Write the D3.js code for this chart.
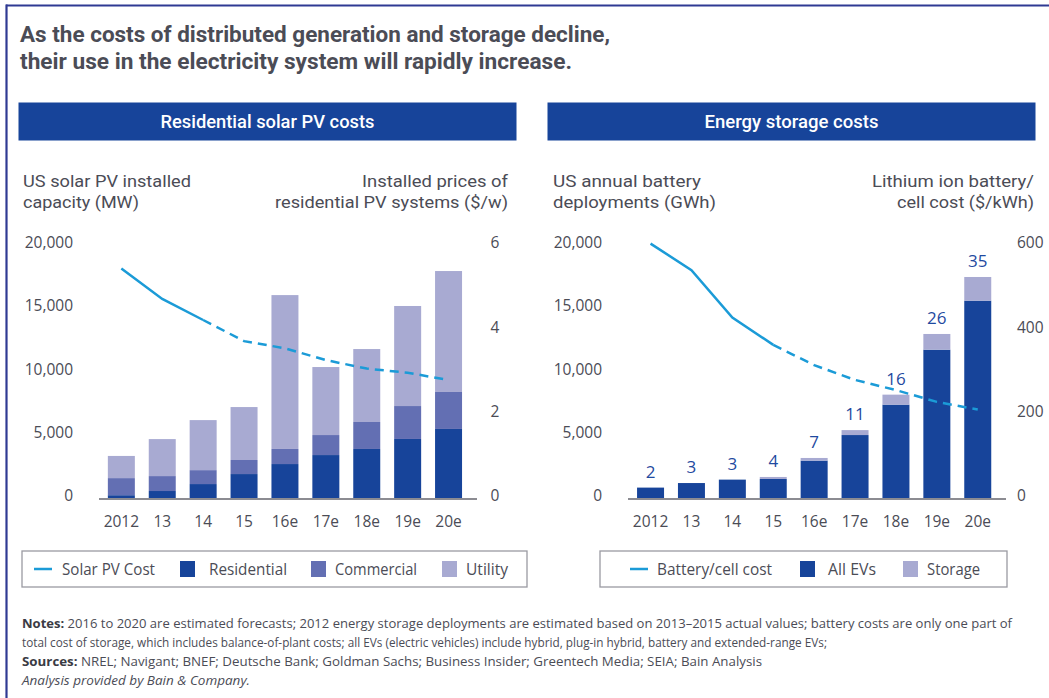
<!DOCTYPE html>
<html><head><meta charset="utf-8">
<script src="https://cdn.jsdelivr.net/npm/d3@7"></script>
<style>
html,body{margin:0;padding:0;background:#fff;}
svg{display:block;font-family:"Open Sans","Noto Sans",sans-serif;}
</style></head>
<body>
<svg id="c" width="1049" height="698"></svg>
<script>
// ---- data ----
const years = ["2012","13","14","15","16e","17e","18e","19e","20e"];
// Residential solar PV (MW installed)
const residential = [300, 630, 1180, 1970, 2760, 3470, 3950, 4740, 5530];
const commercial  = [1350, 1180, 1100, 1110, 1190, 1580, 2130, 2600, 2920];
const utility     = [1750, 2920, 3950, 4180, 12150, 5370, 5760, 7900, 9550];
const pvCost      = [5.46, 4.74, 4.24, 3.74, 3.57, 3.29, 3.09, 2.99, 2.82];
const pvSolidUntil = 2;   // index where dashed (forecast) line starts
// Energy storage
const allEVs      = [900, 1260, 1530, 1580, 3030, 5050, 7450, 11790, 15660];
const storage     = [0, 0, 0, 160, 210, 390, 790, 1240, 1870];
const totalGWh    = [2, 3, 3, 4, 7, 11, 16, 26, 35];
const batteryCost = [605, 542, 430, 365, 317, 282, 258, 230, 212];
const batSolidUntil = 3;
const leftTicks = [0, 5000, 10000, 15000, 20000];
const pvTicks = [0, 2, 4, 6];
const batTicks = [0, 200, 400, 600];

const C = {res:"#17449a", com:"#636fb3", uti:"#a8aad2", line:"#1b9bd7", text:"#4b4c56", axis:"#8c8c92"};

const svg = d3.select("#c");

// frame
svg.append("line").attr("x1",6).attr("x2",1049).attr("y1",5.5).attr("y2",5.5).attr("stroke","#2f3a93").attr("stroke-width",2.2);
svg.append("line").attr("x1",6.5).attr("x2",6.5).attr("y1",4.5).attr("y2",698).attr("stroke","#2f3a93").attr("stroke-width",2.2);

// title
const title = ["As the costs of distributed generation and storage decline,",
               "their use in the electricity system will rapidly increase."];
const titleW = [590, 552];
title.forEach((t,i)=>{
  svg.append("text").attr("x",20).attr("y",42+i*27).text(t)
    .attr("font-family","Roboto").attr("font-size",22.5).attr("font-weight",700).attr("fill",C.text)
    .attr("textLength",titleW[i]).attr("lengthAdjust","spacingAndGlyphs");
});

function panel(cfg){
  const g = svg.append("g");
  // header bar
  g.append("rect").attr("x",cfg.hx).attr("y",102.5).attr("width",cfg.hw).attr("height",38).attr("fill",C.res);
  g.append("text").attr("x",cfg.hx+cfg.hw/2).attr("y",128).attr("text-anchor","middle")
    .attr("fill","#fff").attr("font-size",18).attr("font-family","Roboto").attr("font-weight",500)
    .attr("textLength",cfg.htw).attr("lengthAdjust","spacingAndGlyphs").text(cfg.header);
  // axis titles
  cfg.lt.forEach((t,i)=>g.append("text").attr("x",cfg.ltx).attr("y",187+i*20.5).attr("font-family","Roboto").attr("font-size",17).attr("fill",C.text)
    .attr("textLength",cfg.ltw[i]).attr("lengthAdjust","spacingAndGlyphs").text(t));
  cfg.rt.forEach((t,i)=>g.append("text").attr("x",cfg.rtx).attr("y",187+i*20.5).attr("text-anchor","end").attr("font-family","Roboto").attr("font-size",17).attr("fill",C.text)
    .attr("textLength",cfg.rtw[i]).attr("lengthAdjust","spacingAndGlyphs").text(t));

  const x = d3.scaleBand().domain(years).range([cfg.x0, cfg.x0 + 9*40.9]).paddingInner(0.34).paddingOuter(0.17);
  const y = d3.scaleLinear().domain([0,20000]).range([499,245.7]);
  const y2 = d3.scaleLinear().domain(cfg.y2dom).range([499,245.7]);

  // bars
  cfg.series.forEach(s=>{
    g.append("g").selectAll("rect").data(s.stack).join("rect")
      .attr("x",(d,i)=>x(years[i])).attr("width",x.bandwidth())
      .attr("y",d=>y(d[1])).attr("height",d=>y(d[0])-y(d[1]))
      .attr("fill",s.color);
  });

  // left axis
  const la = g.append("g").attr("transform",`translate(${cfg.lax},-3)`)
    .call(d3.axisLeft(y).tickValues(leftTicks).tickFormat(d3.format(",")).tickSize(0).tickPadding(0));
  la.select(".domain").remove();
  la.selectAll("text").attr("font-size",15.5).attr("fill",C.text).attr("font-family","Open Sans");
  // right axis
  const ra = g.append("g").attr("transform",`translate(${cfg.rax},-3)`)
    .call(d3.axisRight(y2).tickValues(cfg.y2ticks).tickFormat(d3.format("d")).tickSize(0).tickPadding(0));
  ra.select(".domain").remove();
  ra.selectAll("text").attr("font-size",15.5).attr("fill",C.text).attr("text-anchor",cfg.raAnchor).attr("font-family","Open Sans");
  // x axis
  const xa = g.append("g").attr("transform","translate(0,499)")
    .call(d3.axisBottom(x).tickSize(0).tickPadding(17));
  xa.select(".domain").remove();
  xa.selectAll("text").attr("font-size",15.5).attr("fill",C.text).attr("font-family","Open Sans");
  g.append("line").attr("x1",cfg.ax0).attr("x2",cfg.ax1).attr("y1",499).attr("y2",499).attr("stroke",C.axis).attr("stroke-width",2);

  // cost line
  const line = d3.line().x((d,i)=>x(years[d.i])+x.bandwidth()/2).y(d=>y2(d.v));
  const pts = cfg.cost.map((v,i)=>({v,i}));
  g.append("path").attr("d",line(pts.slice(0,cfg.solidUntil+1))).attr("fill","none").attr("stroke",C.line).attr("stroke-width",2.5);
  g.append("path").attr("d",line(pts.slice(cfg.solidUntil))).attr("fill","none").attr("stroke",C.line).attr("stroke-width",2.5).attr("stroke-dasharray","9,6");

  // value labels
  if(cfg.labels){
    g.append("g").selectAll("text").data(cfg.labels).join("text")
      .attr("x",(d,i)=>x(years[i])+x.bandwidth()/2)
      .attr("y",(d,i)=>y(cfg.series[cfg.series.length-1].stack[i][1])-10)
      .attr("text-anchor","middle").attr("font-size",17).attr("fill","#1f4aa0").text(d=>d);
  }

  // legend
  g.append("rect").attr("x",cfg.lg.x).attr("y",551).attr("width",cfg.lg.w).attr("height",36).attr("fill","none").attr("stroke","#9a9aa2").attr("stroke-width",1.3);
  cfg.lg.items.forEach(it=>{
    if(it.type==="line"){
      g.append("line").attr("x1",it.sx).attr("x2",it.sx+18).attr("y1",569).attr("y2",569).attr("stroke",C.line).attr("stroke-width",2.5);
    } else {
      g.append("rect").attr("x",it.sx).attr("y",561).attr("width",15).attr("height",16).attr("fill",it.color);
    }
    g.append("text").attr("x",it.tx).attr("y",575).attr("font-size",16).attr("fill",C.text).text(it.label)
      .attr("textLength",it.tw).attr("lengthAdjust","spacingAndGlyphs");
  });
}

const stackPV = d3.stack().keys(["r","c","u"])(years.map((d,i)=>({r:residential[i],c:commercial[i],u:utility[i]})));
const stackBat = d3.stack().keys(["e","s"])(years.map((d,i)=>({e:allEVs[i],s:storage[i]})));

panel({
  hx:18.5, hw:498, header:"Residential solar PV costs", htw:214,
  lt:["US solar PV installed","capacity (MW)"], ltx:23, ltw:[168,116],
  rt:["Installed prices of","residential PV systems ($/w)"], rtx:508, rtw:[146,233],
  x0:100.9, y2dom:[0,6], y2ticks:pvTicks, lax:73, rax:495, raAnchor:"middle",
  ax0:99, ax1:477,
  series:[{stack:stackPV[0],color:C.res},{stack:stackPV[1],color:C.com},{stack:stackPV[2],color:C.uti}],
  cost:pvCost, solidUntil:pvSolidUntil,
  lg:{x:22,w:505,items:[
    {type:"line",sx:34,tx:62,tw:93,label:"Solar PV Cost"},
    {type:"rect",sx:180,color:C.res,tx:209,tw:78,label:"Residential"},
    {type:"rect",sx:311,color:C.com,tx:335,tw:82,label:"Commercial"},
    {type:"rect",sx:442,color:C.uti,tx:466,tw:42,label:"Utility"}]}
});

panel({
  hx:547.5, hw:488, header:"Energy storage costs", htw:174,
  lt:["US annual battery","deployments (GWh)"], ltx:553, ltw:[148,163],
  rt:["Lithium ion battery/","cell cost ($/kWh)"], rtx:1034, rtw:[162,137],
  x0:630.1, y2dom:[0,600], y2ticks:batTicks, lax:602, rax:1017, raAnchor:"start",
  ax0:628, ax1:1006,
  series:[{stack:stackBat[0],color:C.res},{stack:stackBat[1],color:C.uti}],
  cost:batteryCost, solidUntil:batSolidUntil, labels:totalGWh,
  lg:{x:600,w:407,items:[
    {type:"line",sx:630,tx:657,tw:115,label:"Battery/cell cost"},
    {type:"rect",sx:800,color:C.res,tx:828,tw:48,label:"All EVs"},
    {type:"rect",sx:903,color:C.uti,tx:927,tw:53,label:"Storage"}]}
});

// notes
const notes = svg.append("g").attr("font-size",13).attr("fill",C.text);
function noteLine(y, bold, rest, w, italic){
  const t = notes.append("text").attr("x",22).attr("y",y);
  if(w) t.attr("textLength",w).attr("lengthAdjust","spacingAndGlyphs");
  if(bold) t.append("tspan").attr("font-weight",700).attr("fill","#3a3b44").text(bold+" ");
  t.append("tspan").text(rest);
  if(italic) t.attr("font-style","italic");
}
noteLine(628,"Notes:","2016 to 2020 are estimated forecasts; 2012 energy storage deployments are estimated based on 2013–2015 actual values; battery costs are only one part of",990);
noteLine(647,null,"total cost of storage, which includes balance-of-plant costs; all EVs (electric vehicles) include hybrid, plug-in hybrid, battery and extended-range EVs;",805);
noteLine(666,"Sources:","NREL; Navigant; BNEF; Deutsche Bank; Goldman Sachs; Business Insider; Greentech Media; SEIA; Bain Analysis",740);
noteLine(685,null,"Analysis provided by Bain & Company.",228,true);
</script>
</body></html>
